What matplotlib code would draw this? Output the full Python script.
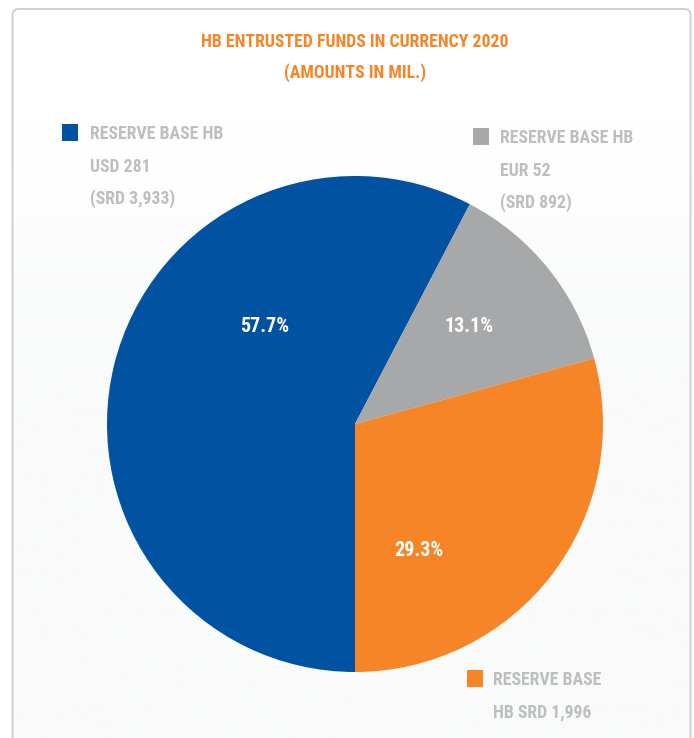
import matplotlib
matplotlib.use("Agg")
import matplotlib.pyplot as plt
from matplotlib import font_manager
from matplotlib.patches import FancyBboxPatch, Rectangle
import numpy as np


TITLE = "HB ENTRUSTED FUNDS IN CURRENCY 2020\n(AMOUNTS IN MIL.)"
SEGMENTS = ["RESERVE BASE HB\nUSD 281\n(SRD 3,933)",
            "RESERVE BASE HB\nEUR 52\n(SRD 892)",
            "RESERVE BASE\nHB SRD 1,996"]
SRD_AMOUNTS = [3933, 892, 1996]
COLORS = ["#0153a1", "#a7a8aa", "#f58527"]

TITLE_COLOR = "#f58527"
LABEL_COLOR = "#bdbec0"


def pick_font():
    for name in ["Liberation Sans Narrow", "Roboto Condensed", "DejaVu Sans"]:
        try:
            font_manager.findfont(font_manager.FontProperties(family=name),
                                  fallback_to_default=False)
            return name
        except Exception:
            continue
    return "DejaVu Sans"


FONT = pick_font()
plt.rcParams["font.family"] = [FONT, "DejaVu Sans"]

W, H = 694, 738
fig = plt.figure(figsize=(W / 100, H / 100), dpi=100)
fig.patch.set_facecolor("white")


def fx(px):
    return px / W


def fy(py):
    return 1 - py / H


# background panel with a soft white-to-grey fade
bg = fig.add_axes([0, 0, 1, 1])
bg.set_xlim(0, W)
bg.set_ylim(H, 0)
bg.axis("off")
grad = np.linspace(0, 1, 256).reshape(-1, 1)
grad = np.clip((grad - 0.15) / 0.35, 0, 1)
panel = FancyBboxPatch((12.5, 9), 678, 760, boxstyle="round,pad=0,rounding_size=6",
                       facecolor="none", edgecolor="#cfcfcf", linewidth=1.4, zorder=3)
bg.add_patch(panel)
fade = matplotlib.colors.LinearSegmentedColormap.from_list("fade", ["#ffffff", "#f9fafa"])
img = bg.imshow(grad, extent=(12.5, 690.5, 738, 9), cmap=fade, aspect="auto", zorder=1)
img.set_clip_path(panel)

# title
for i, line in enumerate(TITLE.split("\n")):
    fig.text(fx(355), fy(42 + 31 * i), line, ha="center", va="center",
             color=TITLE_COLOR, fontsize=12.8, fontweight="bold")

# pie
R = 250
ax = fig.add_axes([fx(355 - R), fy(424 + R), 2 * R / W, 2 * R / H])
wedges, texts, autotexts = ax.pie(
    SRD_AMOUNTS, colors=COLORS, startangle=-90, counterclock=False,
    radius=0.992, autopct="%.1f%%", pctdistance=0.55,
    wedgeprops=dict(linewidth=0), textprops=dict(color="white", fontsize=14.5, fontweight="bold"))
ax.set_xlim(-1, 1)
ax.set_ylim(-1, 1)
ax.set_aspect("equal")
ax.axis("off")

# percentage labels sit off the wedge mid-angles
pct_pos = [(-0.36, 0.39), (0.456, 0.39), (0.256, -0.504)]
for t, (x, y) in zip(autotexts, pct_pos):
    t.set_position((x, y))
    t.set_ha("center")
    t.set_va("center")

# legend-style callouts
callouts = [(62, 124, 90), (473, 128, 500), (467, 670, 493)]
for (sx, sy, tx), label, color in zip(callouts, SEGMENTS, COLORS):
    bg.add_patch(Rectangle((sx, sy), 16, 17, facecolor=color, edgecolor="none", zorder=4))
    for i, line in enumerate(label.split("\n")):
        bg.text(tx, sy + 10 + 32.5 * i, line, ha="left", va="center", color=LABEL_COLOR,
                fontsize=12.8, fontweight="bold", zorder=4)

fig.savefig("out.png", dpi=100)
